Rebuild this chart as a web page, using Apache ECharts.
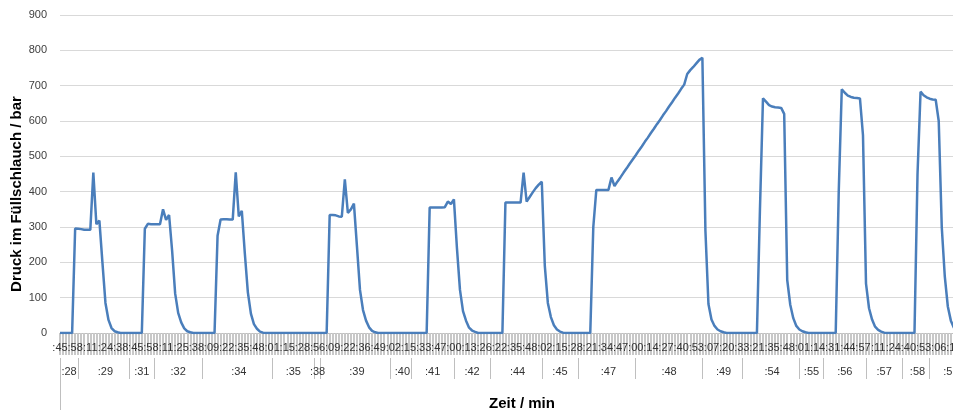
<!DOCTYPE html>
<html>
<head>
<meta charset="utf-8">
<script src="https://cdn.jsdelivr.net/npm/echarts@6/dist/echarts.min.js"></script>
<style>
html,body{margin:0;padding:0;background:#fff;}
#chart{width:953px;height:414px;}
</style>
</head>
<body>
<div id="chart"></div>
<script>
// Seconds labels (inner level), one every 5 samples
const secLabels = [":45",":58",":11",":24",":38",":45",":58",":11",":25",":38",
  ":09",":22",":35",":48",":01",":15",":28",":56",":09",":22",
  ":36",":49",":02",":15",":33",":47",":00",":13",":26",":22",
  ":35",":48",":02",":15",":28",":21",":34",":47",":00",":14",
  ":27",":40",":53",":07",":20",":33",":21",":35",":48",":01",
  ":14",":31",":44",":57",":11",":24",":40",":53",":06",":19"];
const labelStep = 5;

// Minute groups (outer level) and their first sample index
const minuteLabels = [":28",":29",":31",":32",":34",":35",":38",":39",":40",":41",":42",
  ":44",":45",":47",":48",":49",":54",":55",":56",":57",":58",":59"];
const minuteStarts = [0,6,23,31,47,70,84,86,109,116,130,142,159,171,190,212,225,244,252,266,278,287];

// Pressure in bar, one value per sample
const pressure = [
  0,0,0,0,0,296,295,294,292,292,292,454,308,318,200,85,37,14,5,2,
  0,0,0,0,0,0,0,0,295,309,308,308,308,308,350,320,334,233,112,57,
  30,13,5,2,0,0,0,0,0,0,0,0,275,321,322,322,321,321,455,330,
  346,225,115,55,25,12,4,1,0,0,0,0,0,0,0,0,0,0,0,0,
  0,0,0,0,0,0,0,0,0,334,334,333,330,329,435,340,350,366,245,122,
  65,35,16,6,2,0,0,0,0,0,0,0,0,0,0,0,0,0,0,0,
  0,0,355,355,355,355,355,356,372,365,378,240,122,62,35,15,7,3,0,0,
  0,0,0,0,0,0,0,369,369,369,369,369,369,454,372,385,398,410,420,428,
  190,85,45,22,10,4,1,0,0,0,0,0,0,0,0,0,300,405,405,405,
  405,405,440,416,429,441,454,466,479,491,503,516,528,541,553,566,578,591,603,616,
  628,641,653,666,678,691,703,733,744,753,763,773,779,290,82,38,20,10,5,2,
  0,0,0,0,0,0,0,0,0,0,0,350,664,655,645,641,639,638,637,620,
  150,80,42,20,10,5,2,0,0,0,0,0,0,0,0,0,0,400,690,680,
  672,668,666,665,664,560,140,70,38,18,9,4,1,0,0,0,0,0,0,0,
  0,0,0,450,683,673,667,663,661,660,600,300,160,75,35,15,7,3,1,0
];

const N = pressure.length;
const cats1 = [];
for (let i = 0; i < N; i++) {
  cats1.push(i % labelStep === 0 && secLabels[i / labelStep] !== undefined ? secLabels[i / labelStep] : '');
}
const cats2 = new Array(N).fill('');
const boundarySet = new Set(minuteStarts);
minuteLabels.forEach((lab, g) => {
  const s = minuteStarts[g];
  const e = g + 1 < minuteStarts.length ? minuteStarts[g + 1] : N;
  const c = Math.round((s + e) / 2);
  if (c < N) cats2[c] = lab;
});
const cats3 = new Array(N).fill('');

const font = 'Liberation Sans';
const chart = echarts.init(document.getElementById('chart'), null, {renderer: 'canvas'});
chart.setOption({
  animation: false,
  grid: {left: 60, width: 906, top: 15, height: 318, containLabel: false, outerBoundsMode: 'none'},
  xAxis: [
    {
      type: 'category', data: cats1, boundaryGap: false, position: 'bottom',
      axisLine: {show: true, lineStyle: {color: '#bfbfbf', width: 1}},
      axisTick: {show: true, interval: 0, length: 22, lineStyle: {color: '#c8c8c8', width: 2}},
      axisLabel: {interval: 0, margin: 9, color: '#333333', fontFamily: font, fontSize: 11, hideOverlap: false},
      splitLine: {show: false},
      name: 'Zeit / min', nameLocation: 'middle', nameGap: 63, nameMoveOverlap: false,
      nameTextStyle: {fontFamily: font, fontWeight: 'bold', fontSize: 15, color: '#000', padding: [0, 0, 0, 18]}
    },
    {
      type: 'category', data: cats2, boundaryGap: false, position: 'bottom', offset: 25,
      axisLine: {show: false},
      axisTick: {show: true, interval: (i) => boundarySet.has(i), length: 21, lineStyle: {color: '#bfbfbf', width: 1}},
      axisLabel: {interval: 0, margin: 8, color: '#333333', fontFamily: font, fontSize: 11, hideOverlap: false},
      splitLine: {show: false}
    },
    {
      type: 'category', data: cats3, boundaryGap: false, position: 'bottom', offset: 46,
      axisLine: {show: false},
      axisTick: {show: true, interval: (i) => i === 0, length: 31, lineStyle: {color: '#bfbfbf', width: 1}},
      axisLabel: {show: false},
      splitLine: {show: false}
    }
  ],
  yAxis: {
    type: 'value', min: 0, max: 900, interval: 100,
    axisLine: {show: false}, axisTick: {show: false},
    axisLabel: {margin: 13, color: '#404040', fontFamily: font, fontSize: 11},
    splitLine: {show: true, lineStyle: {color: '#d9d9d9', width: 1}},
    name: 'Druck im Füllschlauch / bar', nameLocation: 'middle', nameGap: 36, nameRotate: 90,
    nameMoveOverlap: false,
    nameTextStyle: {fontFamily: font, fontWeight: 'bold', fontSize: 15, color: '#000', padding: [0, 40, 0, 0]}
  },
  series: [{
    type: 'line', data: pressure, xAxisIndex: 0, showSymbol: false, symbol: 'none',
    lineStyle: {color: '#4a7ebb', width: 2.5}, smooth: false, clip: true
  }]
});
</script>
</body>
</html>
